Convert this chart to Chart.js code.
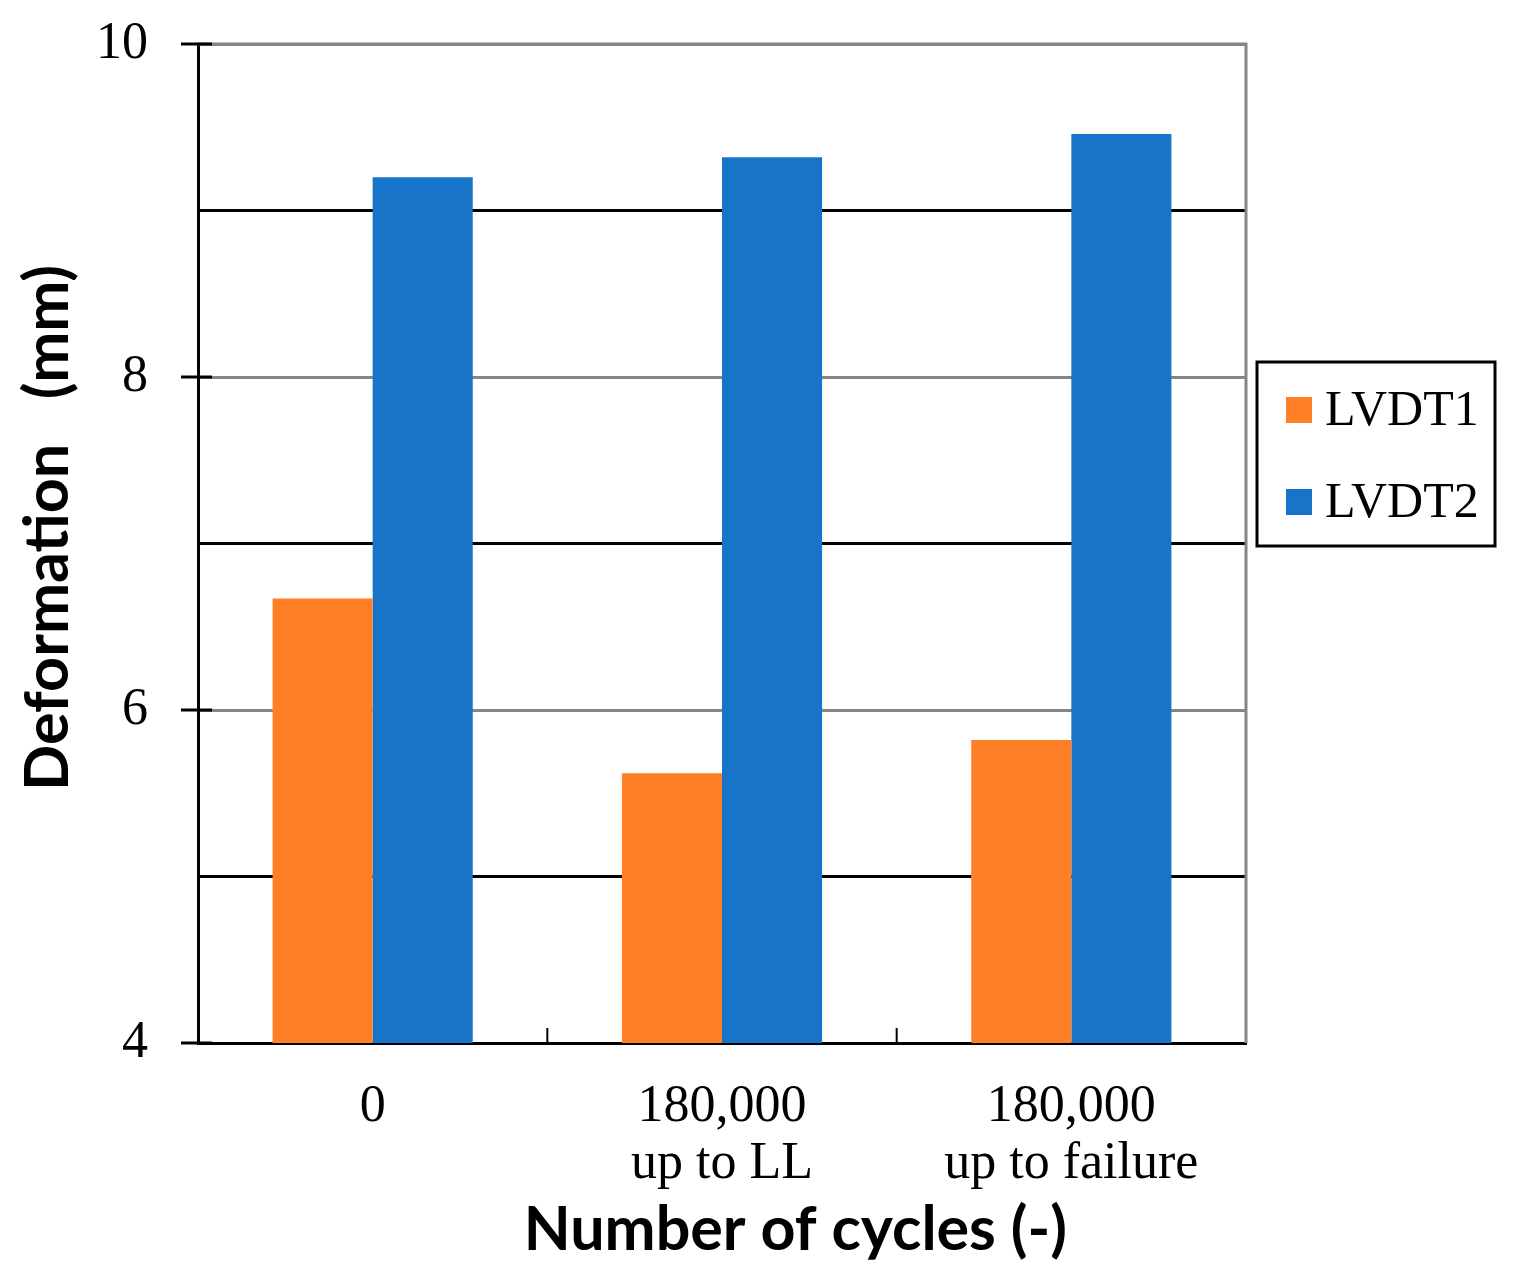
<!DOCTYPE html>
<html>
<head>
<meta charset="utf-8">
<script src="https://cdn.jsdelivr.net/npm/chart.js@4"></script>
<style>
  body { margin: 0; background: #fff; }
  #wrap { width: 1516px; height: 1273px; position: relative; }
</style>
</head>
<body>
<div id="wrap"><canvas id="chart"></canvas></div>
<script>
// 資料
const categories = [['0'], ['180,000', 'up to LL'], ['180,000', 'up to failure']];
const seriesNames = ['LVDT1', 'LVDT2'];
const lvdt1 = [6.67, 5.62, 5.82];
const lvdt2 = [9.20, 9.32, 9.46];
const yTicks = [4, 6, 8, 10];
const colors = ['#FF7F27', '#1874C8'];

const serif = '"Liberation Serif", "DejaVu Serif", serif';
const sans = 'Lato, "Open Sans", sans-serif';

// 額外裝飾：外框、刻度、軸標題、圖例
const decor = {
    id: 'decor',
    afterDraw(chart) {
        const { ctx, chartArea: a, scales: { x, y } } = chart;
        ctx.save();

        // 上、右框線
        ctx.strokeStyle = '#868686';
        ctx.lineWidth = 3;
        ctx.beginPath();
        ctx.moveTo(a.left, a.top);
        ctx.lineTo(a.right, a.top);
        ctx.lineTo(a.right, a.bottom);
        ctx.stroke();

        // 類別分隔刻度
        ctx.strokeStyle = '#000';
        ctx.lineWidth = 2;
        for (let i = 1; i < categories.length; i++) {
            const px = (x.getPixelForValue(i - 1) + x.getPixelForValue(i)) / 2;
            ctx.beginPath();
            ctx.moveTo(px, a.bottom);
            ctx.lineTo(px, a.bottom - 15);
            ctx.stroke();
        }

        // Y軸主刻度
        ctx.lineWidth = 3;
        yTicks.forEach(v => {
            const py = y.getPixelForValue(v);
            ctx.beginPath();
            ctx.moveTo(a.left - 17, py);
            ctx.lineTo(a.left + 14, py);
            ctx.stroke();
        });

        // 軸標題
        ctx.fillStyle = '#000';
        ctx.font = 'bold 61px ' + sans;
        ctx.textAlign = 'center';
        ctx.textBaseline = 'middle';
        ctx.fillText('Number of cycles (-)', a.left + (a.right - a.left) * 0.57, a.bottom + 187);

        ctx.save();
        ctx.translate(48, a.top + 484);
        ctx.rotate(-Math.PI / 2);
        ctx.fillText('Deformation   (mm)', 0, 0);
        ctx.restore();

        // 圖例
        const bx = a.right + 11, by = a.top + 318;
        ctx.strokeStyle = '#000';
        ctx.lineWidth = 3;
        ctx.strokeRect(bx, by, 238, 184);
        ctx.font = '50px ' + serif;
        ctx.textAlign = 'left';
        chart.data.datasets.forEach((ds, i) => {
            const cy = by + 48 + i * 92;
            ctx.fillStyle = ds.backgroundColor;
            ctx.fillRect(bx + 29, cy - 13, 26, 26);
            ctx.fillStyle = '#000';
            ctx.fillText(ds.label, bx + 68, cy + 2);
        });

        ctx.restore();
    }
};

new Chart(document.getElementById('chart'), {
    type: 'bar',
    data: {
        labels: categories,
        datasets: [
            { label: seriesNames[0], data: lvdt1, backgroundColor: colors[0] },
            { label: seriesNames[1], data: lvdt2, backgroundColor: colors[1] }
        ]
    },
    options: {
        responsive: true,
        maintainAspectRatio: false,
        animation: false,
        layout: { padding: { top: 44, right: 270, bottom: 0, left: 0 } },
        datasets: { bar: { barPercentage: 1, categoryPercentage: 0.573 } },
        plugins: {
            legend: { display: false },
            tooltip: { enabled: false }
        },
        scales: {
            x: {
                grid: { display: false },
                border: { display: true, color: '#000', width: 3 },
                ticks: {
                    color: '#000',
                    padding: 28,
                    maxRotation: 0,
                    font: { family: serif, size: 52, lineHeight: 1.1 }
                },
                afterFit(scale) {
                    scale.height = 230;
                    scale.paddingLeft = 0;
                    scale.paddingRight = 0;
                }
            },
            y: {
                min: 4,
                max: 10,
                grid: {
                    color: c => (c.tick && c.tick.value % 2 === 0) ? '#868686' : '#000',
                    lineWidth: 3,
                    tickLength: 17,
                    tickColor: 'transparent'
                },
                border: { display: true, color: '#000', width: 3 },
                ticks: {
                    stepSize: 1,
                    color: '#000',
                    padding: 33,
                    font: { family: serif, size: 52 },
                    callback: v => (yTicks.includes(v) ? v : '')
                },
                afterFit(scale) {
                    scale.width = 198;
                    scale.paddingTop = 0;
                    scale.paddingBottom = 0;
                }
            }
        }
    },
    plugins: [decor]
});
</script>
</body>
</html>
